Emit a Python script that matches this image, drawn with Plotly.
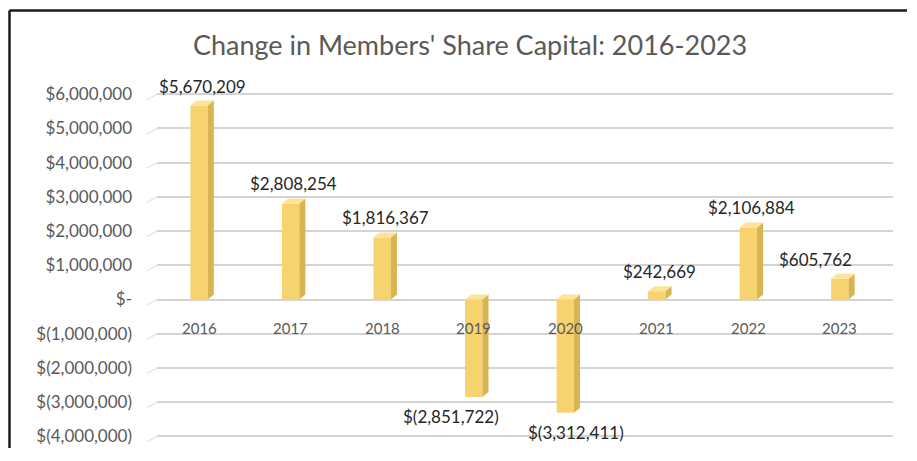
import plotly.graph_objects as go

years = ["2016", "2017", "2018", "2019", "2020", "2021", "2022", "2023"]
change = [5670209, 2808254, 1816367, -2851722, -3312411, 242669, 2106884, 605762]
tick_vals = [6e6, 5e6, 4e6, 3e6, 2e6, 1e6, 0, -1e6, -2e6, -3e6, -4e6]
tick_text = ["$6,000,000", "$5,000,000", "$4,000,000", "$3,000,000", "$2,000,000",
             "$1,000,000", "$-", "$(1,000,000)", "$(2,000,000)", "$(3,000,000)",
             "$(4,000,000)"]

FRONT = "#F6D36E"
SIDE = "#D8B552"
TOP = "#FBE49A"
GREY = "#595959"
FONT = "Lato, 'Open Sans', sans-serif"

BAR_W = 0.19     # front face width (x units)
DEPTH_X = 0.066  # 3d side depth (x units)
DEPTH_Y = 145000 # 3d slant (y units)

# page body has an 8px margin on every side, so keep the figure inside the window
W, H = 899, 440
ML, MR, MT, MB = 149, 14, 76, 0
PW, PH = W - ML - MR, H - MT - MB


def money(v):
    s = f"{abs(v):,.0f}"
    return f"$({s})" if v < 0 else f"${s}"


xs = list(range(len(years)))
fig = go.Figure()

# side and top faces of the pseudo-3d columns
for x, v in zip(xs, change):
    r = x + BAR_W / 2
    top = max(v, 0)
    bot = min(v, 0)
    fig.add_trace(go.Scatter(
        x=[r, r + DEPTH_X, r + DEPTH_X, r, r],
        y=[bot, bot + DEPTH_Y, top + DEPTH_Y, top, bot],
        fill="toself", fillcolor=SIDE, line=dict(width=0), mode="lines",
        hoverinfo="skip", showlegend=False))
    lft = x - BAR_W / 2
    fig.add_trace(go.Scatter(
        x=[lft, r, r + DEPTH_X, lft + DEPTH_X, lft],
        y=[top, top, top + DEPTH_Y, top + DEPTH_Y, top],
        fill="toself", fillcolor=TOP, line=dict(width=0), mode="lines",
        hoverinfo="skip", showlegend=False))

fig.add_trace(go.Bar(x=xs, y=change, width=BAR_W, marker_color=FRONT,
                     marker_line_width=0, showlegend=False))

# data labels (a few were dragged sideways in the original)
nudge = {3: -23, 4: 11, 7: -24}
for x, v in zip(xs, change):
    fig.add_annotation(x=x, y=v, text=money(v), showarrow=False,
                       xshift=nudge.get(x, 3),
                       yshift=7 if v >= 0 else -7,
                       yanchor="bottom" if v >= 0 else "top",
                       font=dict(family=FONT, size=17, color="#262626"))

# category labels sit just under the zero line
for x, y in zip(xs, years):
    fig.add_annotation(x=x, y=0, text=y, showarrow=False, yshift=-28,
                       font=dict(family=FONT, size=15, color=GREY))

# little 3d wall stubs at the left end of each gridline
for t in tick_vals:
    fig.add_shape(type="line", xref="paper", yref="y", x0=-10 / PW, x1=0,
                  y0=t - 160000, y1=t, line=dict(color="#E2E2E2", width=1.2))

# chart frame (only the top and left edges show in the cropped source)
fx = (1.5 - ML) / PW
fy = (H - MB - 2.5) / PH
fx_end = (W - ML) / PW
fy_end = -MB / PH
fig.add_shape(type="line", xref="paper", yref="paper", x0=fx, x1=fx_end,
              y0=fy, y1=fy, line=dict(color="#1a1a1a", width=2.5))
fig.add_shape(type="line", xref="paper", yref="paper", x0=fx, x1=fx,
              y0=fy, y1=fy_end, line=dict(color="#1a1a1a", width=2.5))

fig.update_layout(
    width=W, height=H,
    margin=dict(l=ML, r=MR, t=MT, b=MB),
    paper_bgcolor="white", plot_bgcolor="white",
    title=dict(text="Change in Members' Share Capital: 2016-2023",
               x=462 / W, xanchor="center", y=1 - 38 / H, yanchor="middle",
               font=dict(family=FONT, size=27, color=GREY)),
    font=dict(family=FONT),
)
fig.update_xaxes(range=[-0.46, 7.58], showticklabels=False, showgrid=False,
                 zeroline=False, showline=False)
fig.update_yaxes(range=[-4.34e6, 6.3e6], tickvals=tick_vals, ticktext=tick_text,
                 gridcolor="#D4D4D4", gridwidth=1.5, zeroline=False,
                 ticklabelstandoff=24,
                 tickfont=dict(family=FONT, size=17, color=GREY))

fig.write_html("out.html")
